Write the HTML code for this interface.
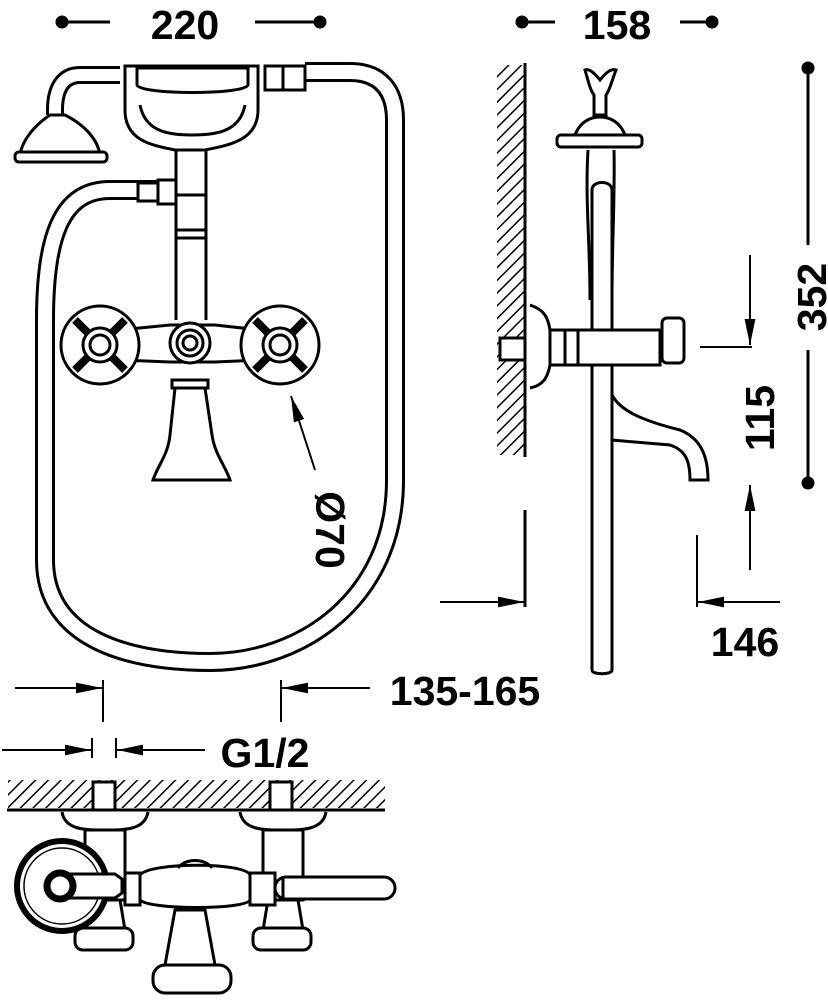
<!DOCTYPE html>
<html><head><meta charset="utf-8"><style>
html,body{margin:0;padding:0;background:#fff;}
svg{display:block;}
text{font-family:"Liberation Sans",Arial,sans-serif;font-weight:bold;fill:#000;}
</style></head><body>
<svg width="828" height="1000" viewBox="0 0 828 1000" xmlns="http://www.w3.org/2000/svg">
<defs>
<pattern id="h" width="9" height="9" patternUnits="userSpaceOnUse" patternTransform="rotate(45)">
<rect width="9" height="9" fill="#fff"/><line x1="0" y1="0" x2="0" y2="9" stroke="#000" stroke-width="3"/>
</pattern>
<marker id="ar" viewBox="0 0 24 10" refX="24" refY="5" markerWidth="26" markerHeight="11" markerUnits="userSpaceOnUse" orient="auto-start-reverse"><path d="M0,0 L24,5 L0,10z"/></marker>
</defs>
<g stroke="#000" fill="none" stroke-width="3">
<circle cx="62" cy="22" r="5" fill="#000"/><circle cx="320" cy="22" r="5" fill="#000"/>
<line x1="62" y1="22" x2="110" y2="22"/><line x1="255" y1="22" x2="320" y2="22"/>
<circle cx="522" cy="22" r="5" fill="#000"/><circle cx="712" cy="22" r="5" fill="#000"/>
<line x1="522" y1="22" x2="555" y2="22"/><line x1="680" y1="22" x2="712" y2="22"/>
<circle cx="808" cy="68" r="5" fill="#000"/><circle cx="808" cy="483" r="5" fill="#000"/>
<line x1="808" y1="68" x2="808" y2="245"/><line x1="808" y1="350" x2="808" y2="483"/>

<path d="M160,190 L110,190 C60,190 45,240 45,320 L45,560 C45,640 130,662 210,662 C300,662 395,600 395,480 L395,120 C395,90 380,72 350,72 L305,72" stroke="#000" stroke-width="20"/>
<path d="M160,190 L110,190 C60,190 45,240 45,320 L45,560 C45,640 130,662 210,662 C300,662 395,600 395,480 L395,120 C395,90 380,72 350,72 L305,72" stroke="#fff" stroke-width="14"/>
<rect x="138" y="183" width="20" height="18" fill="#fff"/>
<rect x="158" y="180" width="18" height="24" fill="#fff"/>
<path d="M120,75 L80,75 C62,75 55,90 55,110 L55,115" stroke-width="18"/>
<path d="M120,75 L80,75 C62,75 55,90 55,110 L55,115" stroke="#fff" stroke-width="12"/>
<path d="M50,115 L65,115 C85,125 98,140 100,155 L20,155 C22,140 35,125 50,115z" fill="#fff"/>
<rect x="15" y="152" width="92" height="10" rx="4" fill="#fff"/>
<rect x="265" y="66" width="40" height="24" fill="#fff"/>
<line x1="283" y1="66" x2="283" y2="90"/>
<path d="M125,66 L258,66 L258,110 C258,140 230,145 205,150 L175,150 C150,145 125,140 125,110z" fill="#fff"/>
<path d="M137,68 L248,68 L248,85 C245,95 140,95 137,85z" fill="#fff"/>
<path d="M140,105 C145,130 165,135 192,135 C220,135 240,130 245,105" />
<path d="M176,150 L176,320 M206,150 L206,320"/>
<path d="M176,230 L206,230 M176,238 L206,238 M176,195 L206,195"/>
<path d="M120,330 L170,325 L215,325 L260,330 L260,360 L215,362 L170,362 L120,360z" fill="#fff"/>
<g fill="#fff">
<circle cx="100" cy="345" r="39"/><circle cx="280" cy="345" r="39"/>
</g>
<g stroke-width="8">
<line x1="75" y1="320" x2="125" y2="370"/><line x1="125" y1="320" x2="75" y2="370"/>
<line x1="255" y1="320" x2="305" y2="370"/><line x1="305" y1="320" x2="255" y2="370"/>
</g>
<g fill="#fff">
<circle cx="100" cy="345" r="17"/><circle cx="100" cy="345" r="10"/>
<circle cx="280" cy="345" r="17"/><circle cx="280" cy="345" r="10"/>
<circle cx="190" cy="343" r="20"/><circle cx="190" cy="343" r="13"/><circle cx="190" cy="343" r="7"/>
</g>
<rect x="172" y="380" width="36" height="8" fill="#fff"/>
<path d="M175,388 L205,388 L212,435 C215,455 225,465 230,480 L153,480 C158,465 168,455 170,435z" fill="#fff"/>
<line x1="315" y1="470" x2="291" y2="396" marker-end="url(#ar)" stroke-width="2"/>

<rect x="497" y="65" width="28" height="390" fill="url(#h)" stroke="none"/>
<line x1="525" y1="63" x2="525" y2="457"/>
<line x1="525" y1="510" x2="525" y2="607"/>
<line x1="440" y1="602" x2="524" y2="602" marker-end="url(#ar)" stroke-width="2"/>
<path d="M585,70 C590,68 596,75 600,80 C604,75 610,68 616,70 C612,80 610,90 606,95 L606,115 L594,115 L594,95 C590,90 588,80 585,70z" fill="#fff"/>
<path d="M575,135 C580,122 590,117 600,117 C610,117 620,122 625,135z" fill="#fff"/>
<rect x="557" y="135" width="85" height="12" rx="4" fill="#fff"/>
<path d="M588,150 C585,200 590,240 590,300 M614,150 C615,200 612,240 612,300"/>
<path d="M592,670 L592,190 C592,180 612,180 612,190 L612,670 C612,675 592,675 592,670z" fill="#fff"/>
<path d="M530,305 C545,310 548,318 550,330 L550,365 C548,375 545,385 530,388"/>
<rect x="500" y="338" width="25" height="22" fill="#fff"/>
<path d="M550,330 L660,330 L660,365 L550,365z" fill="#fff"/>
<line x1="565" y1="330" x2="565" y2="365"/><line x1="578" y1="330" x2="578" y2="365"/>
<rect x="662" y="318" width="22" height="45" rx="5" fill="#fff"/>
<path d="M612,395 C620,410 640,420 680,430 C700,438 708,455 708,480 L690,480 C690,460 685,450 670,445 L612,440"/>
<line x1="750" y1="255" x2="750" y2="345" marker-end="url(#ar)" stroke-width="2"/>
<line x1="700" y1="347" x2="752" y2="347" stroke-width="2"/>
<line x1="750" y1="570" x2="750" y2="485" marker-end="url(#ar)" stroke-width="2"/>
<line x1="697" y1="535" x2="697" y2="607" stroke-width="2"/>
<line x1="780" y1="602" x2="698" y2="602" marker-end="url(#ar)" stroke-width="2"/>

<line x1="15" y1="688" x2="102" y2="688" marker-end="url(#ar)" stroke-width="2"/>
<line x1="103" y1="680" x2="103" y2="722" stroke-width="2"/>
<line x1="370" y1="688" x2="282" y2="688" marker-end="url(#ar)" stroke-width="2"/>
<line x1="281" y1="680" x2="281" y2="722" stroke-width="2"/>
<line x1="2" y1="750" x2="91" y2="750" marker-end="url(#ar)" stroke-width="2"/>
<line x1="92" y1="738" x2="92" y2="758" stroke-width="2"/>
<line x1="205" y1="750" x2="117" y2="750" marker-end="url(#ar)" stroke-width="2"/>
<line x1="116" y1="738" x2="116" y2="758" stroke-width="2"/>
<rect x="8" y="780" width="377" height="28" fill="url(#h)" stroke="none"/>
<line x1="7" y1="810" x2="385" y2="810"/>
<rect x="93" y="782" width="22" height="28" fill="#fff"/><rect x="270" y="782" width="22" height="28" fill="#fff"/>
<path d="M62,812 C65,830 85,830 105,830 C125,830 145,830 148,812" fill="#fff"/>
<path d="M240,812 C243,830 263,830 283,830 C303,830 323,830 326,812" fill="#fff"/>
<rect x="85" y="830" width="40" height="70" fill="#fff"/>
<rect x="263" y="830" width="40" height="70" fill="#fff"/>
<path d="M90,900 L120,900 L125,930 L85,930z" fill="#fff"/>
<path d="M268,900 L298,900 L303,930 L263,930z" fill="#fff"/>
<rect x="75" y="928" width="58" height="22" rx="8" fill="#fff"/>
<rect x="253" y="928" width="58" height="22" rx="8" fill="#fff"/>
<path d="M175,910 L205,910 L215,965 L165,965z" fill="#fff"/>
<rect x="153" y="965" width="78" height="28" rx="12" fill="#fff"/>
<path d="M140,875 C150,862 245,862 250,875 L250,900 C245,910 150,910 140,900z" fill="#fff"/>
<path d="M178,868 C185,858 205,858 212,868"/>
<rect x="125" y="873" width="15" height="32" fill="#fff"/>
<rect x="250" y="873" width="25" height="32" fill="#fff"/>
<rect x="275" y="877" width="120" height="22" rx="11" fill="#fff"/>
<line x1="283" y1="877" x2="283" y2="899"/>
<circle cx="62" cy="886" r="45" stroke-width="6" fill="#fff"/>
<circle cx="62" cy="886" r="38" stroke-width="1.5"/>
<path d="M60,874 L115,874 L122,879 L122,893 L115,898 L60,898 A12,12 0 0 1 60,874z" fill="#fff"/>
<circle cx="60" cy="886" r="13" stroke-width="7"/>
</g>
<text x="185" y="39" font-size="41" text-anchor="middle">220</text>
<text x="617" y="39" font-size="41" text-anchor="middle">158</text>
<text transform="translate(826,297) rotate(-90)" font-size="41" text-anchor="middle">352</text>
<text transform="translate(774,418) rotate(-90)" font-size="41" text-anchor="middle">115</text>
<text x="745" y="656" font-size="41" text-anchor="middle">146</text>
<text transform="translate(316,530) rotate(90)" font-size="41" text-anchor="middle">Ø70</text>
<text x="465" y="705" font-size="41" text-anchor="middle">135-165</text>
<text x="265" y="767" font-size="41" text-anchor="middle">G1/2</text>
</svg>
</body></html>
